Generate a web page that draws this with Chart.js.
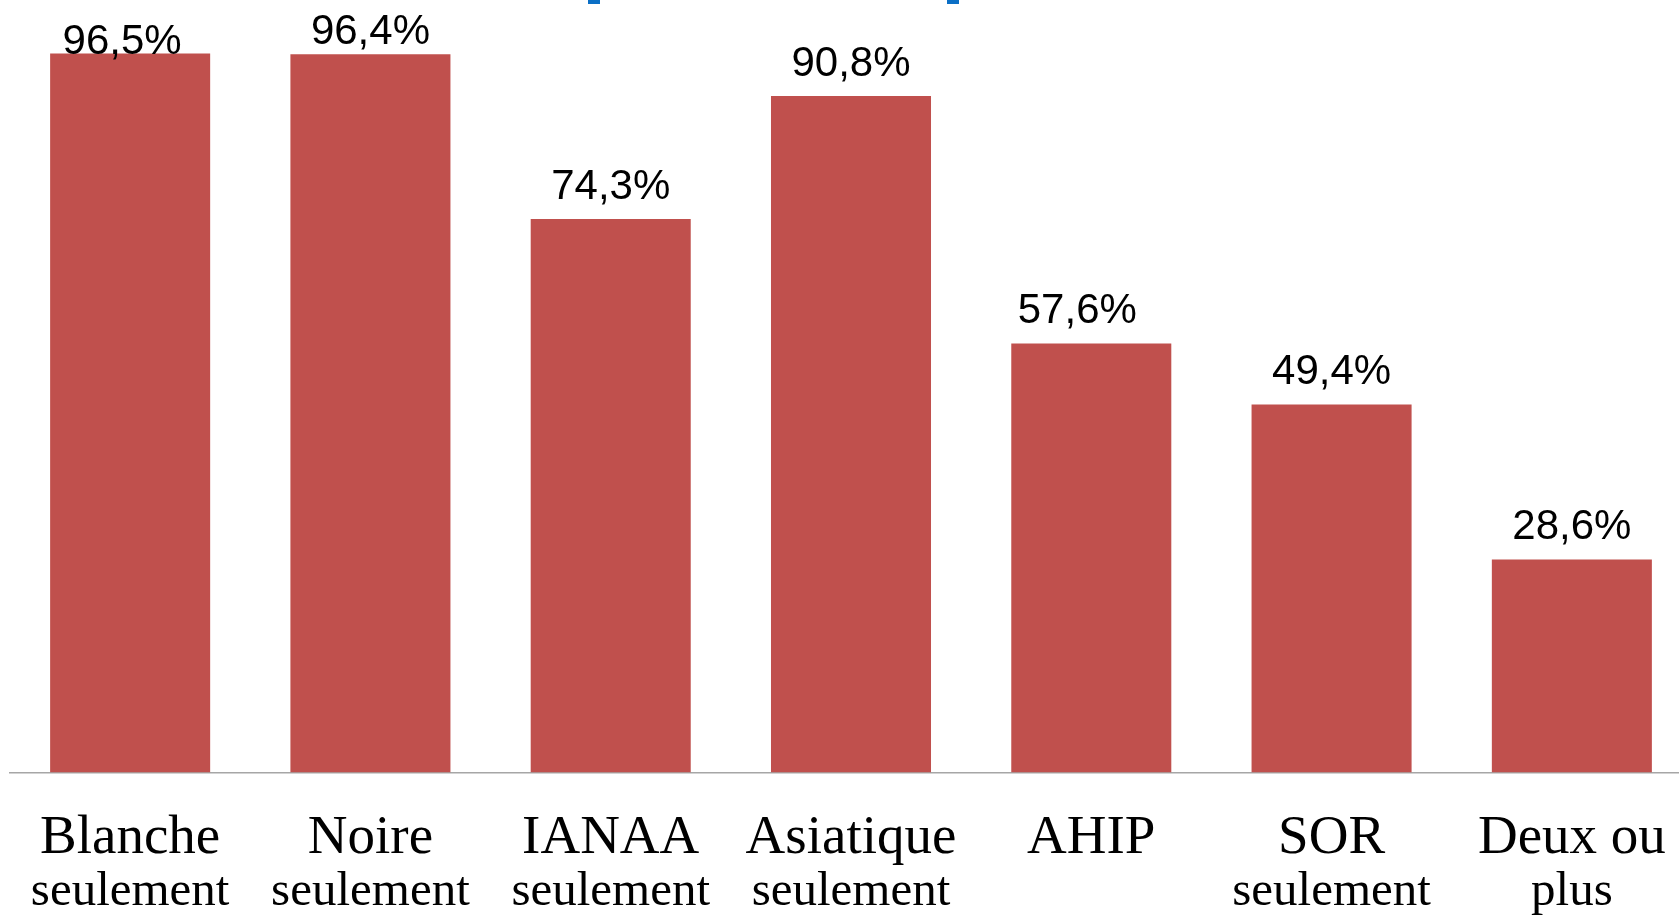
<!DOCTYPE html>
<html lang="fr">
<head>
<meta charset="utf-8">
<title>Répartition par race</title>
<script src="https://cdn.jsdelivr.net/npm/chart.js@4/dist/chart.umd.min.js"></script>
<style>
    html, body { margin: 0; padding: 0; background: #fff; overflow: hidden; }
    #wrap { position: absolute; left: 0; top: 0; width: 1692px; height: 917px; }
</style>
</head>
<body>
<div id="wrap"><canvas id="chart"></canvas></div>
<script>
// ---------- DATA ----------
const categories = ['Blanche', 'Noire', 'IANAA', 'Asiatique', 'AHIP', 'SOR', 'Deux ou'];
const subLabels = ['seulement', 'seulement', 'seulement', 'seulement', '', 'seulement', 'plus'];
const values = [96.5, 96.4, 74.3, 90.8, 57.6, 49.4, 28.6];
const valueLabels = ['96,5%', '96,4%', '74,3%', '90,8%', '57,6%', '49,4%', '28,6%'];

// value label nudges (the first two are squeezed by the top edge)
const labelLift = [0, 10, 20, 20, 20, 20, 20];
const labelShift = [-8, 0, 0, 0, -14, 0, 0];

const SERIF = '"Liberation Serif", "Times New Roman", serif';

// ---------- PLUGINS ----------
const valueLabelPlugin = {
    id: 'valueLabels',
    afterDatasetsDraw(chart) {
        const ctx = chart.ctx;
        const meta = chart.getDatasetMeta(0);
        ctx.save();
        ctx.font = '42px "Liberation Sans", Arial, sans-serif';
        ctx.fillStyle = '#000';
        ctx.textAlign = 'center';
        ctx.textBaseline = 'alphabetic';
        meta.data.forEach((bar, i) => {
            ctx.fillText(valueLabels[i], bar.x + labelShift[i], bar.y - labelLift[i]);
        });
        ctx.restore();
    }
};

// bits of a cropped blue heading peeking in at the top edge
const croppedHeading = {
    id: 'croppedHeading',
    afterDraw(chart) {
        const ctx = chart.ctx;
        ctx.save();
        ctx.fillStyle = '#0b6fc6';
        ctx.fillRect(588, 0, 12, 4);
        ctx.fillRect(947, 0, 12, 4);
        ctx.restore();
    }
};

const hiddenGrid = (len) => ({
    display: true,
    drawOnChartArea: false,
    drawTicks: true,
    tickLength: len,
    color: 'transparent',
    tickColor: 'transparent'
});

// ---------- CHART ----------
new Chart(document.getElementById('chart'), {
    type: 'bar',
    data: {
        labels: categories,
        datasets: [{
            data: values,
            backgroundColor: '#C0504D',
            borderWidth: 0,
            barPercentage: 0.666,
            categoryPercentage: 1
        }]
    },
    options: {
        responsive: true,
        maintainAspectRatio: false,
        animation: false,
        layout: { padding: { top: 27.5, left: 10, right: 0, bottom: 0 } },
        plugins: {
            legend: { display: false },
            tooltip: { enabled: false }
        },
        scales: {
            x: {
                grid: hiddenGrid(39),
                border: { display: true, color: '#a6a6a6', width: 1.5 },
                ticks: {
                    padding: 0,
                    autoSkip: false,
                    maxRotation: 0,
                    color: '#000',
                    font: { family: SERIF, size: 55, lineHeight: 1 }
                }
            },
            x2: {
                type: 'category',
                position: 'bottom',
                labels: subLabels,
                offset: true,
                grid: hiddenGrid(1.5),
                border: { display: false },
                ticks: {
                    padding: 0,
                    autoSkip: false,
                    maxRotation: 0,
                    color: '#000',
                    font: { family: SERIF, size: 49, lineHeight: 1 }
                }
            },
            y: {
                display: false,
                min: 0,
                max: 100
            }
        }
    },
    plugins: [valueLabelPlugin, croppedHeading]
});
</script>
</body>
</html>
